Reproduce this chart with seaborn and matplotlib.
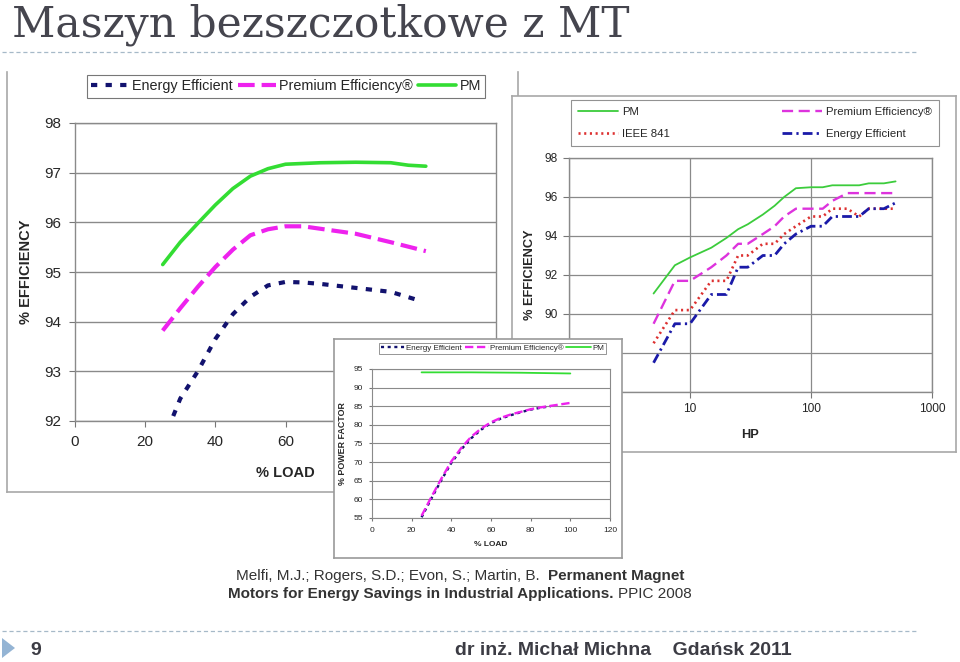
import matplotlib
matplotlib.use("Agg")
import matplotlib.pyplot as plt
import seaborn as sns
from matplotlib.lines import Line2D
from matplotlib.patches import Polygon
from matplotlib.ticker import NullLocator, FixedLocator, FixedFormatter

# ---------------- data ----------------
# Chart 1: % efficiency vs % load
load_pm = [25, 30, 35, 40, 45, 50, 55, 60, 70, 80, 90, 95, 100]
eff_pm = [95.15, 95.6, 95.98, 96.35, 96.68, 96.93, 97.08, 97.17, 97.2, 97.21, 97.2, 97.15, 97.13]
load_prem = [25, 30, 35, 40, 45, 50, 55, 60, 65, 70, 80, 90, 100]
eff_prem = [93.82, 94.27, 94.7, 95.1, 95.45, 95.74, 95.86, 95.92, 95.92, 95.87, 95.77, 95.6, 95.42]
load_ee = [28, 30, 35, 40, 45, 50, 55, 60, 65, 70, 80, 90, 97]
eff_ee = [92.1, 92.45, 93.0, 93.65, 94.15, 94.5, 94.73, 94.8, 94.79, 94.76, 94.68, 94.6, 94.45]

# Chart 2: % efficiency vs HP
hp = [5, 7.5, 10, 15, 20, 25, 30, 40, 50, 60, 75, 100, 125, 150, 200, 250, 300, 400, 500]
hp_pm = [91.05, 92.5, 92.9, 93.4, 93.9, 94.35, 94.6, 95.1, 95.55, 96.0, 96.45, 96.5, 96.5, 96.6, 96.6, 96.6, 96.7, 96.7, 96.8]
hp_prem = [89.5, 91.7, 91.7, 92.4, 93.0, 93.6, 93.6, 94.1, 94.5, 95.0, 95.4, 95.4, 95.4, 95.8, 96.2, 96.2, 96.2, 96.2, 96.2]
hp_ieee = [88.5, 90.2, 90.2, 91.7, 91.7, 93.0, 93.0, 93.6, 93.6, 94.1, 94.5, 95.0, 95.0, 95.4, 95.4, 95.0, 95.4, 95.4, 95.4]
hp_ee = [87.5, 89.5, 89.5, 91.0, 91.0, 92.4, 92.4, 93.0, 93.0, 93.6, 94.1, 94.5, 94.5, 95.0, 95.0, 95.0, 95.4, 95.4, 95.7]

# Chart 3 (inset): % power factor vs % load
pf_load_pm = [25, 50, 75, 100]
pf_pm = [94.1, 94.1, 94.0, 93.8]
pf_load_prem = [25, 30, 35, 40, 45, 50, 55, 60, 65, 70, 75, 80, 85, 90, 95, 100]
pf_prem = [55.6, 60.7, 65.6, 70.2, 73.8, 76.8, 79.0, 80.7, 81.9, 82.8, 83.5, 84.2, 84.7, 85.1, 85.5, 85.9]
pf_load_ee = [25, 30, 35, 40, 45, 50, 55, 60, 65, 70, 75, 80, 85, 90]
pf_ee = [55.2, 60.3, 65.2, 69.8, 73.4, 76.4, 78.7, 80.5, 81.7, 82.6, 83.4, 84.1, 84.6, 85.0]

load_ticks = [0, 20, 40, 60, 80, 100, 120]
# labels 80/100/120 lie under the inset chart in the reference
load_labels_main = ["0", "20", "40", "60", "", "", ""]
eff_ticks = [92, 93, 94, 95, 96, 97, 98]
hp_ticks = [1, 10, 100, 1000]
hp_labels = ["", "10", "100", "1000"]          # "1" is hidden by the inset
hp_eff_ticks = [86, 88, 90, 92, 94, 96, 98]
hp_eff_labels = ["", "", "90", "92", "94", "96", "98"]  # 86/88 hidden by the inset
pf_ticks = [55, 60, 65, 70, 75, 80, 85, 90, 95]

title = "Maszyn bezszczotkowe z MT"
lbl_ee, lbl_prem, lbl_pm, lbl_ieee = "Energy Efficient", "Premium Efficiency®", "PM", "IEEE 841"

# ---------------- style ----------------
sns.set_style("white")
plt.rcParams["font.family"] = ["Liberation Sans", "DejaVu Sans"]
plt.rcParams["lines.scale_dashes"] = False

W, H = 960, 662
fig = plt.figure(figsize=(W / 100, H / 100), dpi=100)
fig.patch.set_facecolor("white")


def rect(x0, y0, x1, y1):
    return [x0 / W, 1 - y1 / H, (x1 - x0) / W, (y1 - y0) / H]


def frame(x0, y0, x1, y1, z, ec="#a8a8a8", top=True):
    a = fig.add_axes(rect(x0, y0, x1, y1), zorder=z)
    a.set_xticks([])
    a.set_yticks([])
    a.set_facecolor("white")
    for s in a.spines.values():
        s.set_color(ec)
        s.set_linewidth(1.2)
    a.spines["top"].set_visible(top)
    return a


NAVY = "#12126e"
MAG = "#ee22ee"
GRN = "#33dd33"
GRID = "#8a8a8a"

# ---------------- chart 1 ----------------
frame(7, 72, 518, 492, 1, top=False)
ax1 = fig.add_axes(rect(75, 123, 496, 421), zorder=2)
ax1.set_facecolor("white")
sns.lineplot(x=load_ee, y=eff_ee, ax=ax1, color=NAVY, lw=3.0, linestyle=(0, (4.5, 6)), label=lbl_ee)
sns.lineplot(x=load_prem, y=eff_prem, ax=ax1, color=MAG, lw=3.0, linestyle=(0, (12, 5)), label=lbl_prem)
sns.lineplot(x=load_pm, y=eff_pm, ax=ax1, color=GRN, lw=2.6, label=lbl_pm)
ax1.set_xlim(0, 120)
ax1.set_ylim(92, 98)
ax1.xaxis.set_major_locator(FixedLocator(load_ticks))
ax1.xaxis.set_major_formatter(FixedFormatter(load_labels_main))
ax1.set_yticks(eff_ticks)
ax1.yaxis.grid(True, color=GRID, lw=1.0)
ax1.xaxis.grid(False)
for s in ax1.spines.values():
    s.set_color("#8a8a8a")
    s.set_linewidth(1.0)
ax1.tick_params(axis="both", length=4, color="#777777", labelsize=11, pad=6, left=True, bottom=True)
ax1.set_xlabel("% LOAD", fontsize=10.5, fontweight="bold", labelpad=12)
ax1.set_ylabel("% EFFICIENCY", fontsize=10.5, fontweight="bold", labelpad=8)
h1 = ax1.get_lines()
leg1 = ax1.legend(handles=h1, labels=[lbl_ee, lbl_prem, lbl_pm], loc="upper left",
                  bbox_to_anchor=(87 / W, 1 - 75 / H), bbox_transform=fig.transFigure,
                  ncol=3, frameon=True, fancybox=False, edgecolor="#555555", fontsize=10.4,
                  handlelength=2.6, handletextpad=0.25, columnspacing=0.35, borderpad=0.3,
                  borderaxespad=0)
leg1.get_frame().set_linewidth(0.8)

# ---------------- chart 2 ----------------
frame(512, 96, 956, 452, 3)
ax2 = fig.add_axes(rect(569, 158, 932, 392), zorder=4)
ax2.set_facecolor("white")
ax2.set_xscale("log")
sns.lineplot(x=hp, y=hp_pm, ax=ax2, color="#3ccc3c", lw=1.3, label=lbl_pm)
sns.lineplot(x=hp, y=hp_ieee, ax=ax2, color="#dd3030", lw=1.9, linestyle=(0, (1.5, 2.6)), label=lbl_ieee)
sns.lineplot(x=hp, y=hp_prem, ax=ax2, color="#dd33dd", lw=1.7, linestyle=(0, (8, 4)), label=lbl_prem)
sns.lineplot(x=hp, y=hp_ee, ax=ax2, color="#1a1aa8", lw=2.0, linestyle=(0, (7, 3, 1.6, 3)), label=lbl_ee)
ax2.set_xlim(1, 1000)
ax2.set_ylim(86, 98)
ax2.xaxis.set_major_locator(FixedLocator(hp_ticks))
ax2.xaxis.set_major_formatter(FixedFormatter(hp_labels))
ax2.xaxis.set_minor_locator(NullLocator())
ax2.yaxis.set_major_locator(FixedLocator(hp_eff_ticks))
ax2.yaxis.set_major_formatter(FixedFormatter(hp_eff_labels))
ax2.grid(True, which="major", color=GRID, lw=0.9)
for s in ax2.spines.values():
    s.set_color("#8a8a8a")
    s.set_linewidth(1.0)
ax2.tick_params(axis="both", length=4, color="#777777", labelsize=8.6, pad=4, left=True, bottom=True)
ax2.set_xlabel("HP", fontsize=9.2, fontweight="bold", labelpad=10)
ax2.set_ylabel("% EFFICIENCY", fontsize=9.2, fontweight="bold", labelpad=6)
l2 = ax2.get_lines()
leg2 = ax2.legend(handles=[l2[0], l2[1], l2[2], l2[3]], labels=[lbl_pm, lbl_ieee, lbl_prem, lbl_ee],
                  loc="lower left", bbox_to_anchor=(571 / W, 1 - 146 / H, (939 - 571) / W, 47 / H),
                  bbox_transform=fig.transFigure, mode="expand", ncol=2, frameon=True,
                  fancybox=False, edgecolor="#777777", fontsize=8.2, handlelength=3.5,
                  handletextpad=0.35, borderpad=0.65, labelspacing=1.0, borderaxespad=0)
leg2.get_frame().set_linewidth(0.8)

# ---------------- chart 3 (inset) ----------------
frame(334, 339, 622, 558, 5, ec="#9a9a9a")
ax3 = fig.add_axes(rect(372, 369, 610, 518), zorder=6)
ax3.set_facecolor("white")
sns.lineplot(x=pf_load_ee, y=pf_ee, ax=ax3, color=NAVY, lw=1.7, linestyle=(0, (2.2, 2.6)), label=lbl_ee)
sns.lineplot(x=pf_load_prem, y=pf_prem, ax=ax3, color=MAG, lw=1.7, linestyle=(0, (6, 2.6)), label=lbl_prem)
sns.lineplot(x=pf_load_pm, y=pf_pm, ax=ax3, color=GRN, lw=1.3, label=lbl_pm)
ax3.set_xlim(0, 120)
ax3.set_ylim(55, 95)
ax3.set_xticks(load_ticks)
ax3.set_yticks(pf_ticks)
ax3.yaxis.grid(True, color=GRID, lw=0.8)
ax3.xaxis.grid(False)
for s in ax3.spines.values():
    s.set_color("#8a8a8a")
    s.set_linewidth(0.8)
ax3.tick_params(axis="both", length=2.5, color="#777777", labelsize=6, pad=4, left=True, bottom=True)
ax3.set_xlabel("% LOAD", fontsize=6, fontweight="bold", labelpad=5)
ax3.set_ylabel("% POWER FACTOR", fontsize=6.4, fontweight="bold", labelpad=5)
h3 = ax3.get_lines()
leg3 = ax3.legend(handles=h3, labels=[lbl_ee, lbl_prem, lbl_pm], loc="upper left",
                  bbox_to_anchor=(379 / W, 1 - 343 / H), bbox_transform=fig.transFigure,
                  ncol=3, frameon=True, fancybox=False, edgecolor="#666666", fontsize=5.8,
                  handlelength=3.0, handletextpad=0.2, columnspacing=0.3, borderpad=0.2,
                  borderaxespad=0)
leg3.get_frame().set_linewidth(0.6)

# ---------------- slide decorations ----------------
TXT = "#3c3c44"
fig.text(12 / W, 1 - 37 / H, title, family=["DejaVu Serif"], fontsize=30.5,
         color="#45454e", va="baseline", ha="left", zorder=10)
for yy in (52, 631):
    fig.add_artist(Line2D([2 / W, 918 / W], [1 - yy / H, 1 - yy / H], transform=fig.transFigure,
                          color="#a6b9c8", lw=0.9, linestyle=(0, (3, 2)), zorder=10))
fig.add_artist(Polygon([[2 / W, 1 - 638 / H], [15 / W, 1 - 648 / H], [2 / W, 1 - 658 / H]],
                       closed=True, transform=fig.transFigure, facecolor="#94b4d4",
                       edgecolor="none", zorder=10))
fig.text(30 / W, 1 - 655 / H, "9", fontsize=14, fontweight="bold", color=TXT, va="baseline", zorder=10)
fig.text(455 / W, 1 - 655 / H, "dr inż. Michał Michna    Gdańsk 2011", fontsize=14,
         fontweight="bold", color=TXT, va="baseline", zorder=10)

# citation lines with mixed weights, centred
renderer = fig.canvas.get_renderer()


def mixed_line(parts, xc, ybase, size=11, gap=4):
    texts = []
    for s, w in parts:
        t = fig.text(0, 1 - ybase / H, s, fontsize=size, fontweight=w, color="#333333",
                     va="baseline", ha="left", zorder=10)
        texts.append(t)
    widths = [t.get_window_extent(renderer).width for t in texts]
    total = sum(widths) + gap * (len(texts) - 1)
    x = xc - total / 2
    for t, wd in zip(texts, widths):
        t.set_x(x / W)
        x += wd + gap


mixed_line([("Melfi, M.J.; Rogers, S.D.; Evon, S.; Martin, B.", "normal"),
            ("Permanent Magnet", "bold")], 460, 580, gap=8)
mixed_line([("Motors for Energy Savings in Industrial Applications.", "bold"),
            ("PPIC 2008", "normal")], 460, 598, gap=4)

fig.savefig("out.png", dpi=100, facecolor="white")
